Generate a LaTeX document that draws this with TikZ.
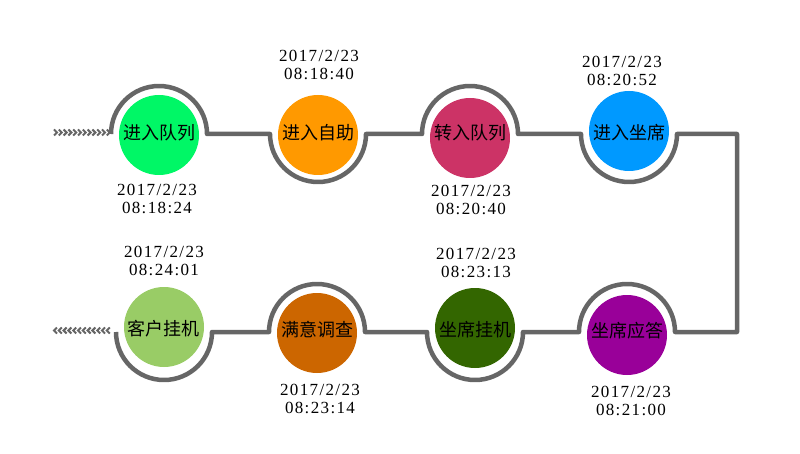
\documentclass[tikz,border=0pt]{standalone}
\usepackage{fontspec}
\newfontfamily\cjk{Noto Sans CJK SC}
\newfontfamily\datefont[LetterSpace=8]{Liberation Serif}
\usetikzlibrary{calc}
\definecolor{linegray}{HTML}{666666}
\definecolor{cA}{HTML}{00F766}
\definecolor{cB}{HTML}{FF9900}
\definecolor{cC}{HTML}{CC3366}
\definecolor{cD}{HTML}{0099FF}
\definecolor{cE}{HTML}{990099}
\definecolor{cF}{HTML}{336600}
\definecolor{cG}{HTML}{CC6600}
\definecolor{cH}{HTML}{99CC66}
\tikzset{
  dot/.style={circle, inner sep=0pt, minimum size=80pt, draw=none},
  lbl/.style={font=\cjk\fontsize{18}{18}\selectfont, text=black, inner sep=0pt},
  datelbl/.style={font=\datefont\fontsize{17}{17.5}\selectfont, align=center, text=black, inner sep=0pt},
  track/.style={draw=linegray, line width=4.5pt, line join=round},
  chev/.style={draw=linegray, line width=2pt},
}
\begin{document}
\begin{tikzpicture}[x=1pt,y=1pt]
\useasboundingbox (0,0) rectangle (800,453);
% arc centres
\coordinate (a1) at (159,319);
\coordinate (a2) at (318,319);
\coordinate (a3) at (470,319);
\coordinate (a4) at (629,319);
\coordinate (a5) at (627,121);
\coordinate (a6) at (475,121);
\coordinate (a7) at (317,121);
\coordinate (a8) at (164,121);
\coordinate (tr) at (737,319);
\coordinate (br) at (737,121);
% track
\draw[track] ($(a1)+(-48,0)$) arc[start angle=180,end angle=0,radius=48]
  -- ($(a2)+(-48,0)$) arc[start angle=180,end angle=360,radius=48]
  -- ($(a3)+(-48,0)$) arc[start angle=180,end angle=0,radius=48]
  -- ($(a4)+(-48,0)$) arc[start angle=180,end angle=360,radius=48]
  -- (tr) -- (br)
  -- ($(a5)+(48,0)$) arc[start angle=0,end angle=180,radius=48]
  -- ($(a6)+(48,0)$) arc[start angle=360,end angle=180,radius=48]
  -- ($(a7)+(48,0)$) arc[start angle=0,end angle=180,radius=48]
  -- ($(a8)+(48,0)$) arc[start angle=360,end angle=180,radius=48];
% chevrons
\foreach \i in {0,...,11}{
  \draw[chev] ({54+4.8*\i},323.5) -- ({57+4.8*\i},320.5) -- ({54+4.8*\i},317.5);
  \draw[chev] ({57+4.8*\i},125.5) -- ({54+4.8*\i},122.5) -- ({57+4.8*\i},119.5);
}
% circles
\node[dot, fill=cA] (n1) at (159,318) {};
\node[dot, fill=cB] (n2) at (318,318) {};
\node[dot, fill=cC] (n3) at (470,315) {};
\node[dot, fill=cD] (n4) at (629,322) {};
\node[dot, fill=cE] (n5) at (627,118) {};
\node[dot, fill=cF] (n6) at (475,125) {};
\node[dot, fill=cG] (n7) at (317,120) {};
\node[dot, fill=cH] (n8) at (164,126) {};
% labels
\node[lbl] (l1) at (159,320) {进入队列};
\node[lbl] (l2) at (318,320) {进入自助};
\node[lbl] (l3) at (470,320) {转入队列};
\node[lbl] (l4) at (629,320) {进入坐席};
\node[lbl] (l5) at (627,122) {坐席应答};
\node[lbl] (l6) at (475,123) {坐席挂机};
\node[lbl] (l7) at (317,123) {满意调查};
\node[lbl] (l8) at (163,124) {客户挂机};
% dates
\node[datelbl] (d1) at (157,254) {2017/2/23\\08:18:24};
\node[datelbl] (d2) at (319,388) {2017/2/23\\08:18:40};
\node[datelbl] (d3) at (471,253) {2017/2/23\\08:20:40};
\node[datelbl] (d4) at (622,382) {2017/2/23\\08:20:52};
\node[datelbl] (d5) at (631,52) {2017/2/23\\08:21:00};
\node[datelbl] (d6) at (476,190) {2017/2/23\\08:23:13};
\node[datelbl] (d7) at (320,54) {2017/2/23\\08:23:14};
\node[datelbl] (d8) at (164,192) {2017/2/23\\08:24:01};
\end{tikzpicture}
\end{document}
